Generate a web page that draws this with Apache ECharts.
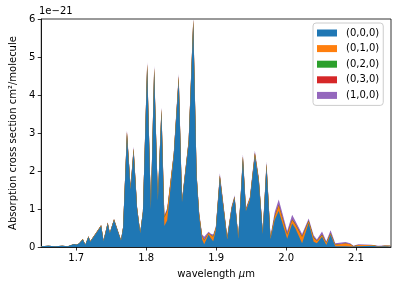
<!DOCTYPE html>
<html>
<head>
<meta charset="utf-8">
<script src="https://cdn.jsdelivr.net/npm/echarts@6/dist/echarts.min.js"></script>
<style>html,body{margin:0;padding:0;background:#fff;}#c{width:398px;height:288px;}</style>
</head>
<body>
<div id="c"></div>
<script>
// wavelength (µm)
const wl = [1.650,1.660,1.670,1.680,1.688,1.693,1.697,1.700,1.704,1.7094,1.713,1.7175,1.720,
  1.728,1.7356,1.739,1.745,1.748,1.754,1.764,1.767,1.7725,1.7777,1.782,1.787,1.7915,1.7953,
  1.8014,1.8067,1.8114,1.8167,1.8218,1.826,1.830,1.8394,1.8465,1.8512,1.8607,1.8673,1.8721,
  1.8758,1.880,1.8829,1.8892,1.8925,1.8958,1.8996,1.9053,1.9158,1.9221,1.9264,1.9317,1.9383,
  1.9426,1.9483,1.9554,1.961,1.9667,1.972,1.9777,1.9838,1.9895,2.0016,2.0087,2.013,2.0229,
  2.0323,2.0394,2.044,2.0514,2.0575,2.0636,2.0703,2.085,2.0916,2.0963,2.1034,2.122,2.1315,
  2.141,2.150];
// cross sections in units of 1e-21 cm^2/molecule
const s000 = [0.02,0.03,0.02,0.03,0.02,0.05,0.08,0.06,0.09,0.20,0.06,0.27,0.14,
  0.35,0.55,0.16,0.62,0.36,0.71,0.17,0.50,2.95,1.52,2.52,1.00,0.36,0.90,
  4.72,1.00,4.62,1.22,3.55,0.55,0.70,2.38,4.40,1.18,2.72,5.88,1.85,
  0.80,0.20,0.07,0.33,0.23,0.15,0.45,1.82,0.20,1.00,1.28,0.22,2.32,
  0.95,1.24,2.40,1.72,0.34,2.12,0.21,0.72,0.95,0.22,0.62,0.50,0.10,
  0.63,0.14,0.10,0.27,0.05,0.32,0.02,0.02,0.01,0.01,0.02,0.03,0.01,
  0.02,0.02];
const s010 = [0,0,0,0,0,0,0,0,0,0.01,0,0.01,0.01,
  0.01,0.02,0.01,0.02,0.01,0.02,0.01,0.02,0.06,0.05,0.06,0.03,0.02,0.03,
  0.08,0.04,0.08,0.04,0.07,0.22,0.25,0.06,0.08,0.04,0.06,0.09,0.05,
  0.06,0.08,0.10,0.04,0.08,0.12,0.05,0.05,0.05,0.03,0.03,0.03,0.05,
  0.04,0.04,0.06,0.05,0.04,0.06,0.04,0.08,0.14,0.10,0.09,0.10,0.16,
  0.05,0.10,0.06,0.04,0.06,0.03,0.04,0.07,0.06,0.01,0.03,0.02,0.01,
  0.01,0.01];
const s020 = [0,0,0,0,0,0,0,0,0,0,0,0,0,
  0,0,0,0,0,0,0,0,0.01,0,0.01,0,0,0,
  0.01,0,0.01,0,0.01,0.01,0.01,0,0.01,0,0,0.01,0,
  0,0,0.01,0,0,0.01,0,0.01,0,0,0.01,0,0.01,
  0,0,0.01,0.01,0,0.01,0,0.01,0.01,0.01,0.01,0.01,0.01,
  0.01,0.01,0,0.01,0,0.01,0,0,0,0,0,0,0,
  0,0];
const s030 = [0,0,0,0,0,0,0,0,0,0,0,0,0,
  0,0,0,0,0,0,0,0,0.01,0,0.01,0,0,0,
  0.01,0,0.01,0,0.01,0.01,0.01,0,0.01,0,0,0.01,0,
  0,0,0,0,0,0,0,0.01,0,0,0,0,0.01,
  0,0,0.01,0,0,0.01,0,0.01,0.01,0.01,0.01,0.01,0.01,
  0.01,0,0,0.01,0,0.01,0,0,0,0,0,0,0,
  0,0];
const s100 = [0,0,0,0,0,0,0,0,0,0,0,0,0,
  0.01,0.01,0.01,0.01,0.01,0.01,0.01,0.01,0.04,0.03,0.04,0.02,0.01,0.02,
  0.05,0.03,0.05,0.03,0.04,0.05,0.05,0.04,0.05,0.03,0.04,0.04,0.04,
  0.04,0.05,0.09,0.03,0.04,0.05,0.04,0.05,0.04,0.04,0.04,0.03,0.05,
  0.04,0.04,0.05,0.05,0.04,0.05,0.04,0.10,0.14,0.08,0.12,0.08,0.06,
  0.05,0.06,0.04,0.08,0.04,0.07,0.04,0.04,0.03,0.01,0.02,0.01,0.01,
  0.01,0.005];
const names = ['(0,0,0)','(0,1,0)','(0,2,0)','(0,3,0)','(1,0,0)'];
const xTicks = [1.7,1.8,1.9,2.0,2.1];
const colors = ['#1f77b4','#ff7f0e','#2ca02c','#d62728','#9467bd'];

const all = [s000,s010,s020,s030,s100];
// cumulative stack tops (each band drawn from 0 to its cumulative top; lower bands drawn over upper ones)
const cum = [];
all.forEach((arr, k) => {
  cum.push(arr.map((v, i) => v + (k > 0 ? cum[k-1][i] : 0)));
});
const font = 'DejaVu Sans';
const chart = echarts.init(document.getElementById('c'), null, {renderer:'canvas'});
chart.setOption({
  animation: false,
  textStyle: {fontFamily: font},
  grid: {left: 39, right: 7, top: 19, bottom: 41, show: true, borderColor: '#000', borderWidth: 0.8, backgroundColor: 'transparent'},
  graphic: [{type:'text', left: 39, top: 6, style:{text:'1e\u221221', font:'10px "DejaVu Sans"', fill:'#000'}}],
  legend: {
    orient: 'vertical', left: 313, top: 23, padding: [4,4,4,4],
    itemWidth: 20, itemHeight: 7, itemGap: 3.6, icon: 'rect',
    borderColor: '#cccccc', borderWidth: 1, borderRadius: 3, backgroundColor: 'rgba(255,255,255,0.8)',
    textStyle: {fontFamily: font, fontSize: 10, color: '#000', lineHeight: 12, padding: [0,0,0,4]},
    data: names
  },
  xAxis: {
    type: 'value', min: 1.65, max: 2.15,
    name: 'wavelength {i|\u03bc}m', nameLocation: 'middle', nameGap: 22,
    nameTextStyle: {fontFamily: font, fontSize: 10, color: '#000', rich: {i: {fontStyle: 'italic', fontFamily: font, fontSize: 10}}},
    axisLine: {lineStyle: {color: '#000', width: 0.8}},
    axisTick: {show: true, length: 3.5, lineStyle: {color: '#000', width: 0.8}, customValues: xTicks},
    axisLabel: {fontFamily: font, fontSize: 10, color: '#000', margin: 6, customValues: xTicks, formatter: v => v.toFixed(1)},
    splitLine: {show: false}
  },
  yAxis: {
    type: 'value', min: 0, max: 6, interval: 1,
    name: 'Absorption cross section cm\u00b2/molecule', nameLocation: 'middle', nameGap: 22,
    nameTextStyle: {fontFamily: font, fontSize: 10, color: '#000'},
    axisLine: {show: true, lineStyle: {color: '#000', width: 0.8}},
    axisTick: {show: true, length: 3.5, lineStyle: {color: '#000', width: 0.8}},
    axisLabel: {fontFamily: font, fontSize: 10, color: '#000', margin: 6},
    splitLine: {show: false}
  },
  series: all.map((arr, k) => ({
    name: names[k], type: 'line', symbol: 'none', showSymbol: false, z: 10 - k,
    clip: true,
    lineStyle: {width: 0, color: colors[k]}, itemStyle: {color: colors[k]},
    areaStyle: {color: colors[k], opacity: 1, origin: 'start'},
    data: wl.map((x, i) => [x, cum[k][i]])
  }))
});
</script>
</body>
</html>
